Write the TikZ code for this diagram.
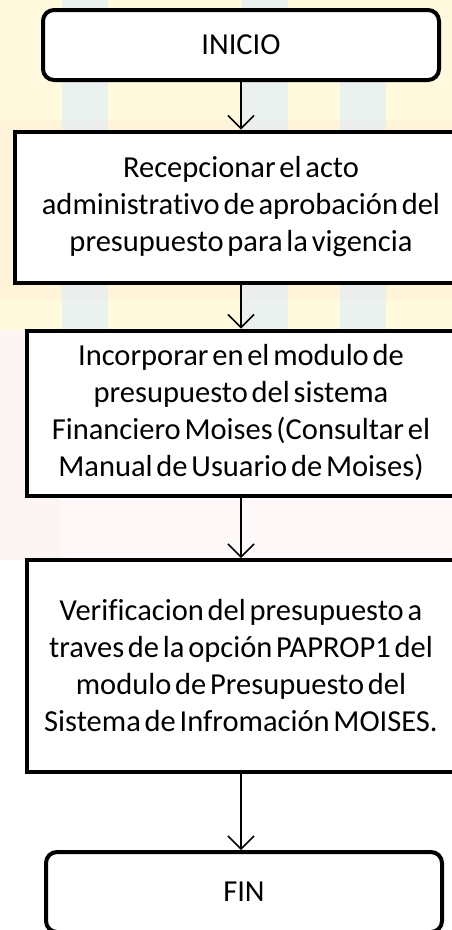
\documentclass[tikz,border=0pt]{standalone}
\usepackage{fontspec}
\setmainfont[WordSpace=0.55,Ligatures=NoCommon]{Carlito}
\usetikzlibrary{arrows.meta}
\definecolor{bgyellow}{RGB}{255,249,222}
\definecolor{bgorange}{RGB}{255,238,215}
\definecolor{bgblue}{RGB}{222,236,250}
\definecolor{bgpink}{RGB}{252,236,236}
\tikzset{
  stepbox/.style={draw=black, line width=4pt, fill=white, align=center, inner sep=0pt,
    font=\fontsize{30.5}{37}\selectfont},
  termbox/.style={stepbox, rounded corners=11pt},
  flow/.style={draw=black, line width=1.5pt, -{Straight Barb[length=13pt,width=26pt,line width=1.5pt]}}
}
\begin{document}
\begin{tikzpicture}[x=1pt,y=-1pt]
\useasboundingbox (0,0) rectangle (452,930);
\clip (0,0) rectangle (452,930);
% faint watermark background
\fill[bgyellow] (0,0) rectangle (452,330);
\fill[bgorange,opacity=0.5] (0,120) rectangle (452,300);
\fill[bgblue,opacity=0.6] (62,0) rectangle (108,330);
\fill[bgblue,opacity=0.6] (242,0) rectangle (288,330);
\fill[bgblue,opacity=0.6] (340,40) rectangle (386,330);
\fill[bgpink,opacity=0.6] (0,330) rectangle (60,560);
\fill[bgpink,opacity=0.35] (60,500) rectangle (452,560);
% nodes
\node[termbox, minimum width=396pt, minimum height=70pt] (ini) at (241,45) {INICIO};
\node[stepbox, minimum width=452pt, minimum height=151pt] (s1) at (241,207)
  {Recepcionar el acto\\administrativo de aprobación del\\presupuesto para la vigencia};
\node[stepbox, minimum width=428pt, minimum height=165pt] (s2) at (241,413)
  {Incorporar en el modulo de\\presupuesto del sistema\\Financiero Moises (Consultar el\\Manual de Usuario de Moises)};
\node[stepbox, minimum width=428pt, minimum height=212pt] (s3) at (241,666)
  {Verificacion del presupuesto a\\traves de la opción PAPROP1 del\\modulo de Presupuesto del\\Sistema de Infromación MOISES.};
\node[termbox, minimum width=396pt, minimum height=80pt] (fin) at (244,892) {FIN};
% connectors
\draw[flow] (ini.south) -- (s1.north);
\draw[flow] (s1.south) -- (s2.north);
\draw[flow] (s2.south) -- (s3.north);
\draw[flow] (s3.south) -- (fin.north -| s3.south);
\end{tikzpicture}
\end{document}
